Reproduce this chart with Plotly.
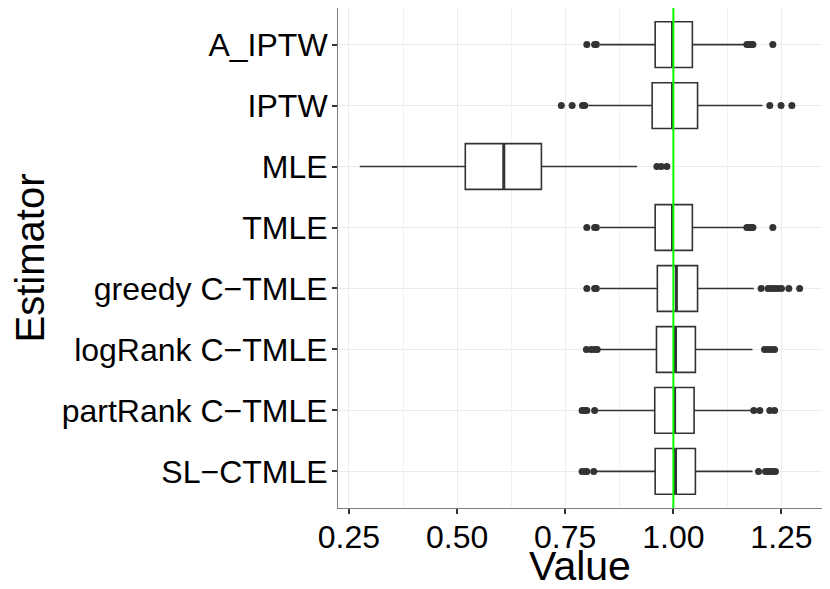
import plotly.graph_objects as go

# Estimators, top to bottom
estimators = ["A_IPTW", "IPTW", "MLE", "TMLE", "greedy C−TMLE",
              "logRank C−TMLE", "partRank C−TMLE", "SL−CTMLE"]

# Box statistics
q1 = [0.958, 0.951, 0.519, 0.958, 0.963, 0.961, 0.957, 0.958]
median = [0.998, 0.998, 0.608, 0.998, 1.007, 1.005, 1.003, 1.005]
q3 = [1.044, 1.056, 0.695, 1.044, 1.056, 1.051, 1.048, 1.051]
lower_whisker = [0.830, 0.803, 0.275, 0.830, 0.830, 0.828, 0.822, 0.822]
upper_whisker = [1.167, 1.206, 0.916, 1.167, 1.186, 1.183, 1.180, 1.183]

# Outliers per estimator
outliers = [
    [0.800, 0.818, 0.822, 1.170, 1.175, 1.180, 1.184, 1.230],
    [0.741, 0.766, 0.790, 0.795, 1.223, 1.249, 1.274],
    [0.962, 0.972, 0.985],
    [0.800, 0.818, 0.822, 1.170, 1.175, 1.180, 1.184, 1.230],
    [0.800, 0.818, 0.822, 1.203, 1.219, 1.227, 1.234, 1.242, 1.250, 1.267, 1.292],
    [0.799, 0.810, 0.818, 0.824, 1.211, 1.219, 1.227, 1.234],
    [0.789, 0.795, 0.800, 0.818, 1.186, 1.200, 1.223, 1.234],
    [0.789, 0.797, 0.800, 0.816, 1.197, 1.213, 1.219, 1.224, 1.230, 1.236],
]

true_value = 1.0
x_ticks = [0.25, 0.50, 0.75, 1.00, 1.25]

dark = "#333333"
box_width = 0.75

fig = go.Figure()

fig.add_trace(go.Box(
    y=estimators,
    q1=q1, median=median, q3=q3,
    lowerfence=lower_whisker, upperfence=upper_whisker,
    orientation="h",
    width=box_width,
    whiskerwidth=0,
    fillcolor="white",
    line=dict(color=dark, width=1.6),
    boxpoints=False,
    hoverinfo="x",
))

# outlier points
out_x, out_y = [], []
for name, pts in zip(estimators, outliers):
    out_x += pts
    out_y += [name] * len(pts)

fig.add_trace(go.Scatter(
    x=out_x, y=out_y, mode="markers",
    marker=dict(color=dark, size=7),
    hoverinfo="x",
))

# thicker median lines, like ggplot
for i, m in enumerate(median):
    fig.add_shape(type="line", xref="x", yref="y",
                  x0=m, x1=m, y0=i - box_width / 2, y1=i + box_width / 2,
                  line=dict(color=dark, width=3))

# reference line at the true value
fig.add_shape(type="line", xref="x", yref="paper",
              x0=true_value, x1=true_value, y0=0, y1=1,
              line=dict(color="#00FF00", width=2), layer="above")

font = "Liberation Sans, Arial, sans-serif"

# page body has an 8px margin, so the figure is a bit smaller than the window
fig.update_layout(
    width=822, height=581,
    margin=dict(l=330, r=8, t=0, b=81),
    paper_bgcolor="white", plot_bgcolor="white",
    showlegend=False,
    font=dict(family=font, color="black"),
    xaxis=dict(
        range=[0.2247, 1.3437],
        tickvals=x_ticks, ticktext=[f"{v:.2f}" for v in x_ticks],
        ticks="outside", ticklen=5, tickwidth=1.5, tickcolor=dark,
        ticklabelstandoff=-4,
        tickfont=dict(size=32, color="black"),
        showgrid=True, gridcolor="#EBEBEB", gridwidth=1.3,
        minor=dict(dtick=0.25, tick0=0.125, showgrid=True,
                   gridcolor="#F2F2F2", gridwidth=0.8),
        zeroline=False,
        showline=True, mirror=True, linecolor="#7F7F7F", linewidth=1,
        title=dict(text="Value", font=dict(size=41), standoff=0),
    ),
    yaxis=dict(
        type="category",
        categoryorder="array", categoryarray=estimators,
        range=[7.6, -0.6],
        ticks="outside", ticklen=5, tickwidth=1.5, tickcolor=dark,
        ticklabelstandoff=-2,
        tickfont=dict(size=32, color="black"),
        showgrid=True, gridcolor="#EBEBEB", gridwidth=1.3,
        zeroline=False,
        showline=True, mirror=True, linecolor="#7F7F7F", linewidth=1,
        title=dict(text="Estimator", font=dict(size=40), standoff=6),
    ),
)

fig.write_html("out.html")
